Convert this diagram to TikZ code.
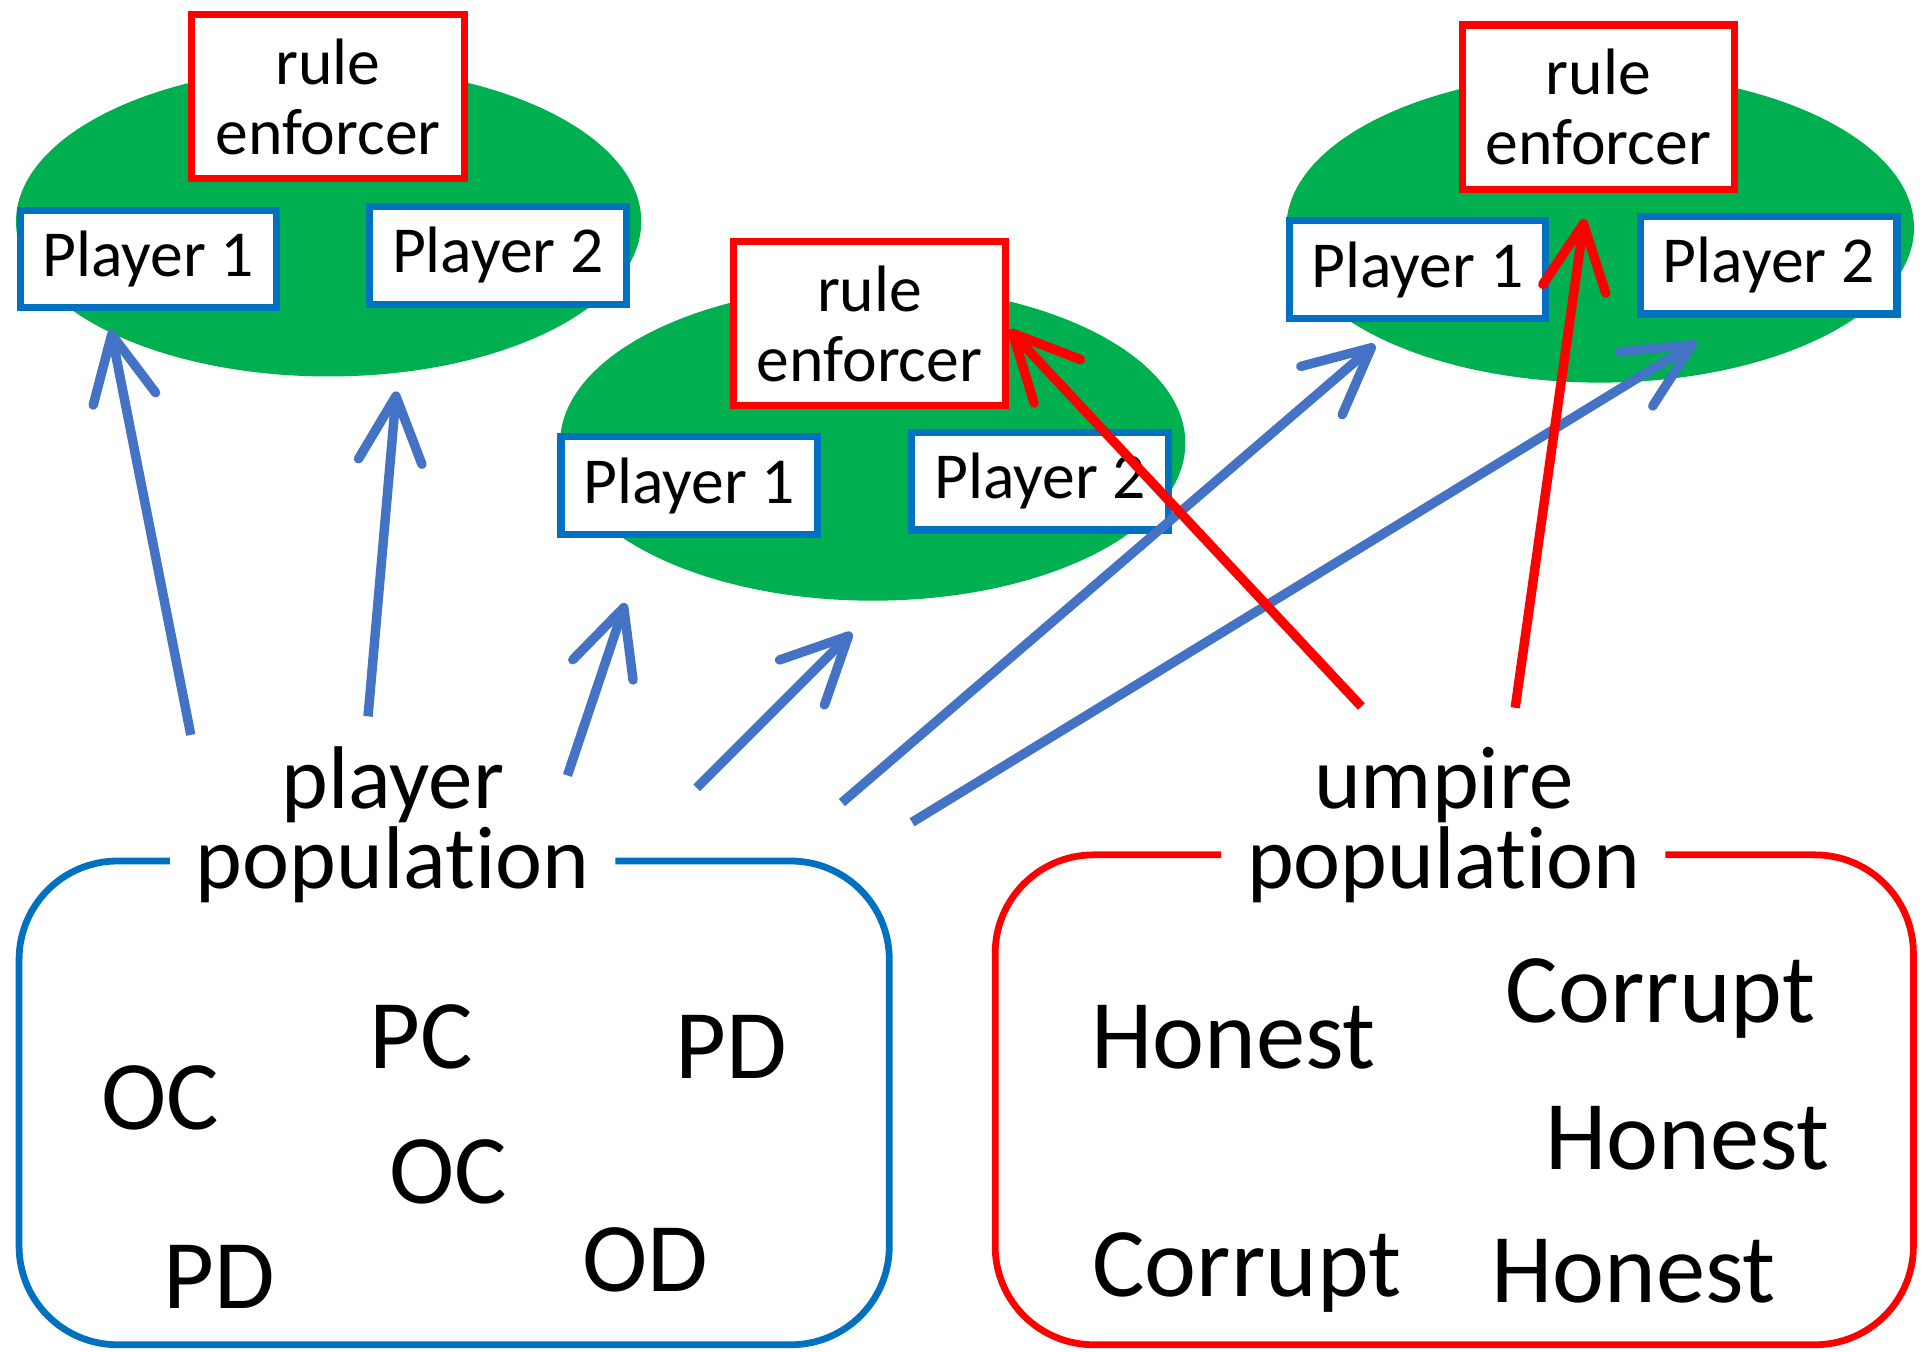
\documentclass[tikz,border=0pt]{standalone}
\usepackage{fontspec}
\setmainfont{Carlito}[Ligatures=NoCommon]
\usetikzlibrary{arrows.meta,shapes.geometric}
\definecolor{grn}{HTML}{00B050}
\definecolor{bbox}{HTML}{0070C0}
\definecolor{barr}{HTML}{4472C4}
\definecolor{rred}{HTML}{FF0000}
\begin{document}
\begin{tikzpicture}[x=0.6pt,y=-0.6pt,
 field/.style={ellipse, fill=grn, inner sep=0pt, minimum width=304.8pt, minimum height=151pt},
 playerbox/.style={draw=bbox, line width=3.5pt, fill=white, minimum width=125pt, minimum height=47.5pt, inner sep=0pt, font=\fontsize{32}{34}\selectfont},
 rulebox/.style={draw=rred, line width=3.5pt, fill=white, minimum width=132.8pt, minimum height=80pt, inner sep=0pt, align=center, font=\fontsize{32}{34.2}\selectfont},
 barrow/.style={draw=barr, line width=4.6pt, -{Straight Barb[length=32pt,width=31pt,round]}},
 rarrow/.style={barrow, draw=rred},
 title/.style={font=\fontsize{43.4}{39}\selectfont, align=center, anchor=base, inner sep=0pt},
 member/.style={font=\fontsize{48}{48}\selectfont, anchor=base, inner sep=0pt},
 popframe/.style={line width=3.3pt, rounded corners=48pt},
]
\useasboundingbox (0,0) rectangle (1568,1098);

% fields
\node[field] (f1) at (267,180) {};
\node[field, minimum height=153.6pt] (f2) at (709,360) {};
\node[field, minimum width=306pt] (f3) at (1300,185) {};

% rule enforcers
\node[rulebox] (re1) at (266.5,78.5) {rule\\enforcer};
\node[rulebox] (re2) at (706.5,263) {rule\\enforcer};
\node[rulebox] (re3) at (1298.5,87) {rule\\enforcer};

% players
\node[playerbox] (p11) at (120.5,210.5) {Player 1};
\node[playerbox] (p12) at (404.5,207.5) {Player 2};
\node[playerbox] (p21) at (560,394.5) {Player 1};
\node[playerbox] (p22) at (845,391) {Player 2};
\node[playerbox] (p31) at (1151.5,219) {Player 1};
\node[playerbox] (p32) at (1437,215.5) {Player 2};

% population frames
\draw[popframe, draw=bbox] (500,699.5) -- (722.5,699.5) -- (722.5,1092.5) -- (15.5,1092.5) -- (15.5,699.5) -- (138,699.5);
\draw[popframe, draw=rred] (1353,694.5) -- (1554.5,694.5) -- (1554.5,1092.5) -- (808.5,1092.5) -- (808.5,694.5) -- (992,694.5);

\node[title] (pt) at (319,722) {player\\population};
\node[title] (ut) at (1173,722) {umpire\\population};

% player population members
\node[member] (m1) at (130,918) {OC};
\node[member] (m2) at (342,868) {PC};
\node[member] (m3) at (594,876) {PD};
\node[member] (m4) at (364,978) {OC};
\node[member] (m5) at (178,1063) {PD};
\node[member] (m6) at (524,1049) {OD};

% umpire population members
\node[member] (u1) at (1002,868) {Honest};
\node[member] (u2) at (1349,831) {Corrupt};
\node[member] (u3) at (1371,950) {Honest};
\node[member] (u4) at (1013,1053) {Corrupt};
\node[member] (u5) at (1327,1058) {Honest};

% arrow endpoints
\coordinate (s1) at (155,597); \coordinate (t1) at (90,268);
\coordinate (s2) at (299,582); \coordinate (t2) at (322,318);
\coordinate (s3) at (461,630); \coordinate (t3) at (508,490);
\coordinate (s4) at (566,640); \coordinate (t4) at (692,514);
\coordinate (s5) at (684,652); \coordinate (t5) at (1117,280);
\coordinate (s6) at (741,668); \coordinate (t6) at (1378,278);
\coordinate (s7) at (1106,574); \coordinate (t7) at (820,268);
\coordinate (s8) at (1231,575); \coordinate (t8) at (1287,178);

\draw[barrow] (s1) -- (t1);
\draw[barrow] (s2) -- (t2);
\draw[barrow] (s3) -- (t3);
\draw[barrow] (s4) -- (t4);
\draw[barrow] (s5) -- (t5);
\draw[barrow] (s6) -- (t6);
\draw[rarrow] (s7) -- (t7);
\draw[rarrow] (s8) -- (t8);
\end{tikzpicture}
\end{document}
